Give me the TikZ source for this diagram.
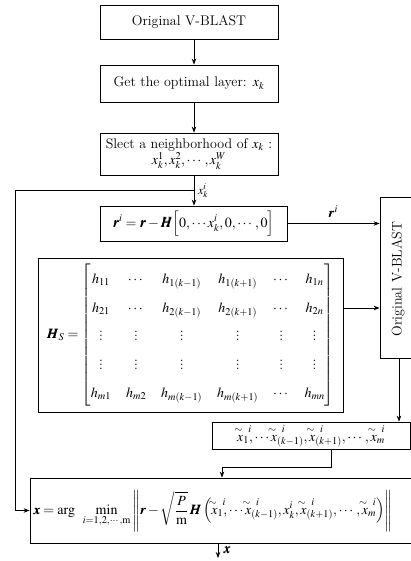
\documentclass[tikz,border=0pt]{standalone}
\usepackage{amsmath}
\usepackage{mathptmx}
\usepackage{bm}
\usetikzlibrary{arrows.meta,calc}
\newcommand{\tx}[1]{\overset{\makebox[0pt]{$\scriptstyle\hspace{5pt}\sim\;\;\, i$}}{x}_{#1}}
\begin{document}
\begin{tikzpicture}[x=1pt,y=-1pt, line width=0.8pt,
  box/.style={draw, inner sep=0pt, font=\fontsize{14}{17}\selectfont},
  txt/.style={inner sep=0pt, font=\fontsize{14}{17}\selectfont},
  arr/.style={-{Stealth[length=6pt,width=4.5pt]}}]
\useasboundingbox (0,0) rectangle (411,561);
% boxes
\node[box, minimum width=178pt, minimum height=34pt] (b1) at (189,22) {Original V-BLAST};
\node[box, minimum width=178pt, minimum height=37pt] (b2) at (189,83.5) {Get the optimal layer: $x_k$};
\node[box, minimum width=178pt, minimum height=42pt, align=center] (b3) at (189,154)
  {Slect a neighborhood of $x_k$ :\\[-1pt] $x_k^1,x_k^2,\cdots,x_k^W$};
\node[box, minimum width=187pt, minimum height=35pt] (b4) at (193.5,223.5)
  {$\bm{r}^i=\bm{r}-\bm{H}\Bigl[0,\cdots x_k^i,0,\cdots,0\Bigr]$};
\node[box, minimum width=305pt, minimum height=154pt] (hm) at (190.5,335)
  {$\bm{H}_S=\renewcommand{\arraystretch}{1.68}\setlength{\arraycolsep}{7.5pt}
   \begin{bmatrix}
   h_{11} & \cdots & h_{1(k-1)} & h_{1(k+1)} & \cdots & h_{1n}\\
   h_{21} & \cdots & h_{2(k-1)} & h_{2(k+1)} & \cdots & h_{2n}\\
   \vdots & \vdots & \vdots & \vdots & \vdots & \vdots\\
   \vdots & \vdots & \vdots & \vdots & \vdots & \vdots\\
   h_{m1} & h_{m2} & h_{m(k-1)} & h_{m(k+1)} & \cdots & h_{mn}
   \end{bmatrix}$};
\node[draw, inner sep=0pt, minimum width=40pt, minimum height=161pt] (vb) at (400,277.5) {};
\node[txt, rotate=90] (vbt) at (398,279) {Original V-BLAST};
\node[box, minimum width=198pt, minimum height=27pt] (b5) at (311,435.5)
  {$\tx{1},\cdots\tx{(k-1)},\tx{(k+1)},\cdots,\tx{m}$};
\node[draw, inner sep=0pt, minimum width=390pt, minimum height=65pt] (fb) at (225,510.5) {};
\node[txt, anchor=west, font=\fontsize{14}{17}\selectfont] (ft) at (33,511)
  {$\displaystyle \bm{x}=\arg\;\;\min_{i=1,2,\cdots,\mathrm{m}}\left\|\bm{r}-\sqrt{\frac{P}{\mathrm{m}}}\,\bm{H}\left(\tx{1},\cdots\tx{(k-1)},x_k^i,\tx{(k+1)},\cdots,\tx{m}\right)\right\|$};
% connectors
\coordinate (ax) at (194,0);
\draw[arr] (b1.south -| ax) -- (b2.north -| ax);
\draw[arr] (b2.south -| ax) -- (b3.north -| ax);
\draw[arr] (b3.south -| ax) -- (b4.north -| ax);
\node[txt, font=\fontsize{12}{14}\selectfont] (lxk) at (203,191) {$x_k^i$};
\coordinate (j1) at (194,190);
\coordinate (lc) at (15,0);
\draw[arr] (j1) -- (j1 -| lc) -- (fb.west -| lc) -- (fb.west);
\draw[arr] (b4.east) -- (b4.east -| vb.west);
\node[txt] (lr) at (333,212) {$\bm{r}^i$};
\coordinate (hy) at (0,308);
\draw[arr] (hm.east |- hy) -- (vb.west |- hy);
\coordinate (vx) at (399,0);
\draw[arr] (vb.south -| vx) -- (b5.north -| vx);
\coordinate (b5x) at (331,0);
\coordinate (jy) at (0,467);
\coordinate (fx) at (222,0);
\draw[arr] (b5.south -| b5x) -- (b5x |- jy) -- (fx |- jy) -- (fb.north -| fx);
\coordinate (ox) at (218,0);
\coordinate (oy) at (0,558);
\draw[arr] (fb.south -| ox) -- (ox |- oy);
\node[txt] (lx) at (227,550) {$\bm{x}$};
\end{tikzpicture}
\end{document}
